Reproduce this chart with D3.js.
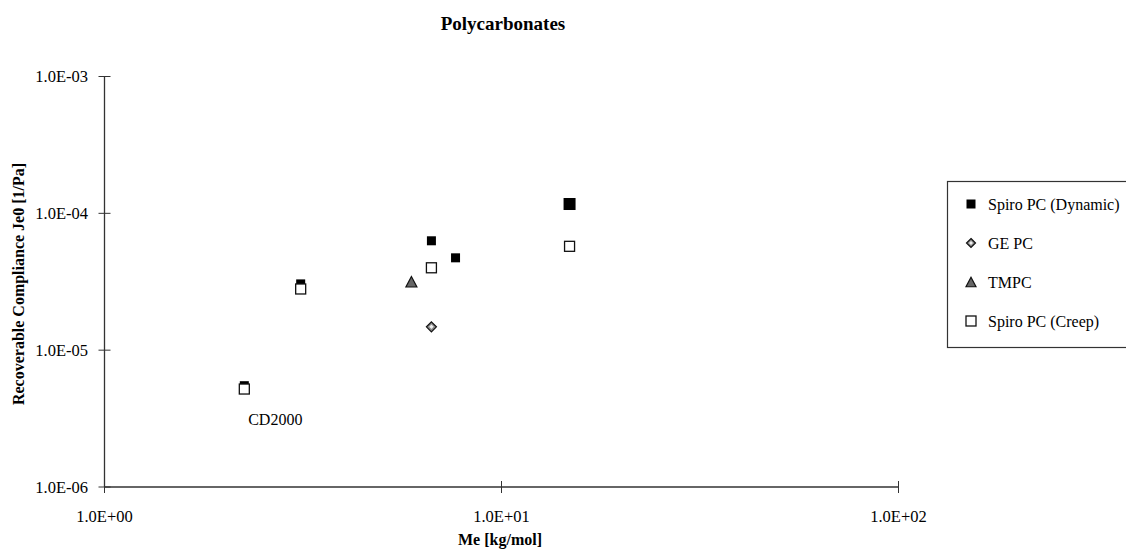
<!DOCTYPE html>
<html><head><meta charset="utf-8">
<script src="https://cdn.jsdelivr.net/npm/d3@7/dist/d3.min.js"></script>
<style>body{margin:0;background:#fff}svg{display:block;font-family:"Liberation Serif","Times New Roman",serif}</style>
</head><body><svg id="c" width="1126" height="551"></svg>
<script>
// Data
const seriesNames = ["Spiro PC (Dynamic)", "GE PC", "TMPC", "Spiro PC (Creep)"];
const dynamicMe = [2.25, 3.12, 6.66, 7.66, 14.84];
const dynamicJe = [5.5e-6, 3.05e-5, 6.3e-5, 4.73e-5, 1.17e-4];
const geMe = [6.66];
const geJe = [1.48e-5];
const tmpcMe = [5.93];
const tmpcJe = [3.16e-5];
const creepMe = [2.25, 3.12, 6.66, 14.84];
const creepJe = [5.2e-6, 2.8e-5, 4.0e-5, 5.74e-5];
const xTicks = [1, 10, 100];
const yTicks = [1e-6, 1e-5, 1e-4, 1e-3];
const xTickLabels = ["1.0E+00", "1.0E+01", "1.0E+02"];
const yTickLabels = ["1.0E-06", "1.0E-05", "1.0E-04", "1.0E-03"];
const annotation = {text: "CD2000", me: 2.25, je: 5.2e-6};

const svg = d3.select("#c");
const x = d3.scaleLog().domain([1, 100]).range([104.5, 898.5]);
const y = d3.scaleLog().domain([1e-6, 1e-3]).range([487, 76.5]);
const axisColor = "#333";

// Axes lines
svg.append("line").attr("x1", x(1)).attr("x2", x(100)).attr("y1", y(1e-6)).attr("y2", y(1e-6)).attr("stroke", axisColor).attr("stroke-width", 1.3);
svg.append("line").attr("x1", x(1)).attr("x2", x(1)).attr("y1", y(1e-6)).attr("y2", y(1e-3)).attr("stroke", axisColor).attr("stroke-width", 1.3);

// X ticks
xTicks.forEach((t, i) => {
  svg.append("line").attr("x1", x(t)).attr("x2", x(t)).attr("y1", y(1e-6) - 6).attr("y2", y(1e-6) + 6).attr("stroke", axisColor);
  svg.append("text").attr("x", x(t)).attr("y", 522).attr("text-anchor", "middle").attr("font-size", 16.5).text(xTickLabels[i]);
});
// Y ticks
yTicks.forEach((t, i) => {
  svg.append("line").attr("x1", x(1) - 6).attr("x2", x(1) + 6).attr("y1", y(t)).attr("y2", y(t)).attr("stroke", axisColor);
  svg.append("text").attr("x", 88).attr("y", y(t) + 5.5).attr("text-anchor", "end").attr("font-size", 16.5).text(yTickLabels[i]);
});

// Titles
svg.append("text").attr("x", 503).attr("y", 30).attr("text-anchor", "middle").attr("font-size", 19).attr("font-weight", "bold").text("Polycarbonates");
svg.append("text").attr("x", 500).attr("y", 545).attr("text-anchor", "middle").attr("font-size", 16).attr("font-weight", "bold").text("Me [kg/mol]");
svg.append("text").attr("transform", "translate(24,284) rotate(-90)").attr("text-anchor", "middle").attr("font-size", 16).attr("font-weight", "bold").text("Recoverable Compliance Je0 [1/Pa]");

// Marker drawers
function drawSquareFilled(g, cx, cy, s) {
  g.append("rect").attr("x", cx - s / 2).attr("y", cy - s / 2).attr("width", s).attr("height", s).attr("fill", "#000");
}
function drawSquareOpen(g, cx, cy, s) {
  g.append("rect").attr("x", cx - s / 2).attr("y", cy - s / 2).attr("width", s).attr("height", s).attr("fill", "#fff").attr("stroke", "#111").attr("stroke-width", 1.3);
}
function drawDiamond(g, cx, cy, s) {
  const r = s / 2;
  g.append("path").attr("d", `M${cx},${cy - r}L${cx + r},${cy}L${cx},${cy + r}L${cx - r},${cy}Z`).attr("fill", "#888").attr("stroke", "#111").attr("stroke-width", 1.2);
  const r2 = r * 0.45;
  g.append("path").attr("d", `M${cx},${cy - r2}L${cx + r2},${cy}L${cx},${cy + r2}L${cx - r2},${cy}Z`).attr("fill", "#eee");
}
function drawTriangle(g, cx, cy, s) {
  const h = s * 0.95;
  g.append("path").attr("d", `M${cx},${cy - h / 2}L${cx + s / 2},${cy + h / 2}L${cx - s / 2},${cy + h / 2}Z`).attr("fill", "#666").attr("stroke", "#111").attr("stroke-width", 1.2);
}

const plot = svg.append("g");
dynamicMe.forEach((m, i) => drawSquareFilled(plot, x(m), y(dynamicJe[i]), i === 4 ? 12 : 9));
geMe.forEach((m, i) => drawDiamond(plot, x(m), y(geJe[i]), 10));
tmpcMe.forEach((m, i) => drawTriangle(plot, x(m), y(tmpcJe[i]), 11));
creepMe.forEach((m, i) => drawSquareOpen(plot, x(m), y(creepJe[i]), 10));

svg.append("text").attr("x", x(annotation.me) + 31).attr("y", y(annotation.je) + 36).attr("text-anchor", "middle").attr("font-size", 16).text(annotation.text);

// Legend
const lg = svg.append("g");
lg.append("rect").attr("x", 947.5).attr("y", 181.5).attr("width", 190).attr("height", 166).attr("fill", "#fff").attr("stroke", "#333").attr("stroke-width", 1.2);
const drawers = [drawSquareFilled, drawDiamond, drawTriangle, drawSquareOpen];
const sizes = [9, 9, 10, 10];
seriesNames.forEach((n, i) => {
  const cy = 204 + i * 39;
  drawers[i](lg, 971, cy, sizes[i]);
  lg.append("text").attr("x", 988).attr("y", cy + 5.5).attr("font-size", 16).text(n);
});
</script></body></html>
